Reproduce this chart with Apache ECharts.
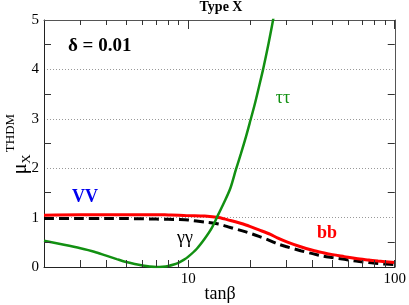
<!DOCTYPE html>
<html>
<head>
<meta charset="utf-8">
<script src="https://cdn.jsdelivr.net/npm/echarts@6/dist/echarts.min.js"></script>
<style>html,body{margin:0;padding:0;background:#fff}#c{width:409px;height:305px}</style>
</head>
<body>
<div id="c"></div>
<script>
// ---- data (x = tan beta, y = mu_X^THDM) ----
var tauX = [2, 2.5, 3, 3.5, 4, 4.5, 5, 5.5, 6, 6.5, 7, 7.5, 8, 8.5, 9, 9.5, 10, 11, 12, 13, 14, 15, 16, 17, 18, 19, 20, 21, 22, 23, 24, 25, 26];
var tauY = [0.53, 0.45, 0.38, 0.31, 0.23, 0.16, 0.10, 0.06, 0.03, 0.01, 0, 0.005, 0.02, 0.05, 0.09, 0.145, 0.21, 0.37, 0.57, 0.79, 1.07, 1.33, 1.6, 1.97, 2.3, 2.63, 2.97, 3.3, 3.65, 3.99, 4.35, 4.72, 5.1];
var bbX = [2, 3, 4, 5, 6, 7, 8, 9, 10, 12, 14, 16, 19, 22, 25, 27, 30, 35, 40, 45, 50, 57, 65, 75, 83, 100];
var bbY = [1.05, 1.06, 1.06, 1.06, 1.06, 1.06, 1.055, 1.05, 1.04, 1.03, 1.0, 0.94, 0.85, 0.75, 0.66, 0.59, 0.51, 0.41, 0.34, 0.29, 0.25, 0.21, 0.17, 0.14, 0.12, 0.09];
var ggX = [2, 3, 4, 5, 6, 7, 8, 9, 10, 12, 14, 16, 19, 22, 25, 27, 30, 35, 40, 45, 50, 57, 65, 75, 83, 100];
var ggY = [0.98, 0.98, 0.98, 0.98, 0.975, 0.97, 0.965, 0.96, 0.95, 0.91, 0.87, 0.80, 0.71, 0.62, 0.53, 0.47, 0.41, 0.33, 0.27, 0.22, 0.19, 0.155, 0.12, 0.09, 0.07, 0.05];
var xMajorTicks = [10, 100];
var xMinorTicks = [3, 4, 5, 6, 7, 8, 9, 20, 30, 40, 50, 60, 70, 80, 90];
var yMinorTicks = [0.5, 1.5, 2.5, 3.5, 4.5];
var xMin = 2, xMax = 100;
var yMin = 0, yMax = 5, yStep = 1;
var labels = {title: 'Type X', delta: 'δ = 0.01', tau: 'ττ', vv: 'VV', gg: 'γγ', bb: 'bb', xname: 'tanβ'};

function L(v) { return Math.log10(v); }
function pts(xs, ys) { return xs.map(function (x, i) { return [L(x), ys[i]]; }); }
function crisp(v) { return Math.round(v - 0.5) + 0.5; }

var F = 'Liberation Serif';
var TICK = '#333';
var chart = echarts.init(document.getElementById('c'));

// tick marks drawn through the axis scales (api.coord)
function xTickSeries(ticks, lenBottom, lenTop) {
  return {
    type: 'custom', silent: true, clip: false, z: 10,
    data: ticks.map(function (t) { return [L(t), yMin]; }),
    encode: {x: 0, y: 1},
    renderItem: function (params, api) {
      var b = api.coord([api.value(0), yMin]);
      var t = api.coord([api.value(0), yMax]);
      var x = crisp(b[0]);
      return {type: 'group', children: [
        {type: 'line', shape: {x1: x, y1: b[1], x2: x, y2: b[1] - lenBottom}, style: {stroke: TICK, lineWidth: 1}},
        {type: 'line', shape: {x1: x, y1: t[1], x2: x, y2: t[1] + lenTop}, style: {stroke: TICK, lineWidth: 1}}
      ]};
    }
  };
}
function yTickSeries(ticks, len) {
  return {
    type: 'custom', silent: true, clip: false, z: 10,
    data: ticks.map(function (t) { return [L(xMin), t]; }),
    encode: {x: 0, y: 1},
    renderItem: function (params, api) {
      var l = api.coord([L(xMin), api.value(1)]);
      var r = api.coord([L(xMax), api.value(1)]);
      var y = crisp(l[1]);
      return {type: 'group', children: [
        {type: 'line', shape: {x1: l[0], y1: y, x2: l[0] + len, y2: y}, style: {stroke: TICK, lineWidth: 1}},
        {type: 'line', shape: {x1: r[0], y1: y, x2: r[0] - len, y2: y}, style: {stroke: TICK, lineWidth: 1}}
      ]};
    }
  };
}

var option = {
  animation: false,
  grid: {left: 44, right: 12, top: 20, bottom: 38},
  xAxis: [
    {type: 'value', position: 'bottom', min: L(xMin), max: L(xMax),
      axisLine: {show: true, onZero: false, lineStyle: {color: '#222'}},
      axisTick: {show: false},
      axisLabel: {customValues: xMajorTicks.map(L), margin: 5, color: '#000', fontFamily: F, fontSize: 15,
        formatter: function (v) { return String(Math.round(Math.pow(10, v))); }},
      splitLine: {show: false}},
    {type: 'value', position: 'top', min: L(xMin), max: L(xMax),
      axisLine: {show: true, onZero: false, lineStyle: {color: '#555'}},
      axisTick: {show: false}, axisLabel: {show: false}, splitLine: {show: false}}
  ],
  yAxis: [
    {type: 'value', position: 'left', min: yMin, max: yMax, interval: yStep,
      axisLine: {show: true, lineStyle: {color: '#222'}},
      axisTick: {show: false},
      axisLabel: {margin: 5, color: '#000', fontFamily: F, fontSize: 15},
      splitLine: {show: true, lineStyle: {color: '#999', type: [1, 2], width: 1}}},
    {type: 'value', position: 'right', min: yMin, max: yMax, interval: yStep,
      axisLine: {show: true, lineStyle: {color: '#555'}},
      axisTick: {show: false}, axisLabel: {show: false}, splitLine: {show: false}}
  ],
  series: [
    {type: 'line', data: pts(ggX, ggY), showSymbol: false, smooth: 0.3,
      lineStyle: {color: '#000', width: 3, type: [10, 5]}},
    {type: 'line', data: pts(bbX, bbY), showSymbol: false, smooth: 0.3,
      lineStyle: {color: '#ff0000', width: 3}},
    {type: 'line', data: pts(tauX, tauY), showSymbol: false, smooth: 0.3, clip: true,
      lineStyle: {color: '#129012', width: 2.5}},
    xTickSeries(xMinorTicks, 7, 5),
    xTickSeries(xMajorTicks, 7, 9),
    yTickSeries(yMinorTicks, 7)
  ],
  graphic: [
    {type: 'text', x: 221, y: 7, style: {text: labels.title, font: 'bold 14px "Liberation Serif"', fill: '#000', align: 'center', verticalAlign: 'middle'}},
    {type: 'text', x: 68, y: 46, style: {text: labels.delta, font: 'bold 19px "Liberation Serif"', fill: '#000', align: 'left', verticalAlign: 'middle'}},
    {type: 'text', x: 283, y: 98, style: {text: labels.tau, font: '18px "Liberation Serif"', fill: '#129012', align: 'center', verticalAlign: 'middle'}},
    {type: 'text', x: 85, y: 197, style: {text: labels.vv, font: 'bold 18px "Liberation Serif"', fill: '#0000ee', align: 'center', verticalAlign: 'middle'}},
    {type: 'text', x: 185, y: 238, style: {text: labels.gg, font: '18px "Liberation Serif"', fill: '#000', align: 'center', verticalAlign: 'middle'}},
    {type: 'text', x: 327, y: 233, style: {text: labels.bb, font: 'bold 18px "Liberation Serif"', fill: '#ff0000', align: 'center', verticalAlign: 'middle'}},
    {type: 'text', x: 220, y: 294, style: {text: labels.xname, font: '18px "Liberation Serif"', fill: '#000', align: 'center', verticalAlign: 'middle'}},
    {type: 'text', x: 21, y: 169, rotation: Math.PI / 2, style: {text: 'μ', font: '20px "Liberation Serif"', fill: '#000', align: 'center', verticalAlign: 'middle'}},
    {type: 'text', x: 27, y: 159, rotation: Math.PI / 2, style: {text: 'X', font: '13px "Liberation Serif"', fill: '#000', align: 'center', verticalAlign: 'middle'}},
    {type: 'text', x: 11, y: 133, rotation: Math.PI / 2, style: {text: 'THDM', font: '13px "Liberation Serif"', fill: '#000', align: 'center', verticalAlign: 'middle'}}
  ]
};
chart.setOption(option);
</script>
</body>
</html>
